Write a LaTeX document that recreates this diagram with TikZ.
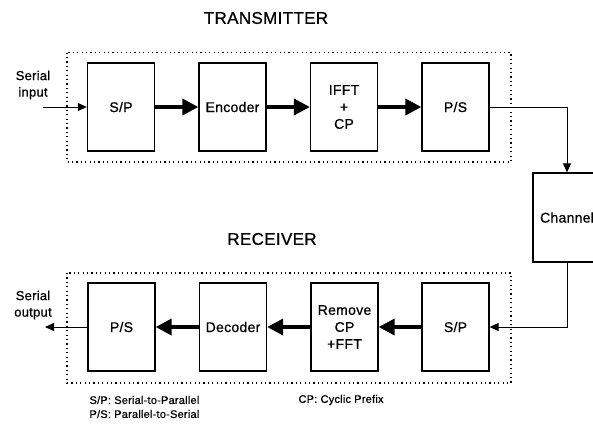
\documentclass[tikz,border=0pt]{standalone}
\usepackage{fontspec}
\setmainfont{Liberation Sans}[FakeBold=0.7,LetterSpace=2]
\usetikzlibrary{arrows.meta}

\begin{document}
\begin{tikzpicture}[x=1pt,y=-1pt,
  block/.style={draw,line width=1.3pt,minimum width=67pt,minimum height=88pt,
    inner sep=0pt,align=center,font=\fontsize{14}{17}\selectfont},
  group/.style={draw,line width=1.2pt,dash pattern=on 1.2pt off 3.2pt},
  thick arrow/.style={line width=3.6pt,-{Triangle[length=16pt,width=16pt]}},
  thin arrow/.style={line width=1pt,-{Triangle[length=9pt,width=8pt]}},
  side/.style={align=center,font=\fontsize{13}{16.5}\selectfont},
  title/.style={font=\fontsize{17}{20}\selectfont},
  note/.style={anchor=west,font=\fontsize{11}{13}\selectfont}]
\useasboundingbox (0,0) rectangle (593,432);

% titles
\node[title] (ttx) at (266,18) {TRANSMITTER};
\node[title] (trx) at (272,239) {RECEIVER};

% dotted group frames
\draw[group] (67,52.5) rectangle (511,162);
\draw[group] (67,273) rectangle (511,383);

% transmitter chain
\node[block] (sp1)  at (121,107)   {S/P};
\node[block] (enc)  at (232.5,107) {Encoder};
\node[block] (ifft) at (344,107)   {IFFT\\+\\CP};
\node[block] (ps1)  at (455.5,107) {P/S};

% receiver chain
\node[block] (ps2)  at (121.5,327) {P/S};
\node[block] (dec)  at (233,327)   {Decoder};
\node[block] (fft)  at (344.5,327) {Remove\\CP\\+FFT};
\node[block] (sp2)  at (455.5,327) {S/P};

% channel
\node[draw,line width=1.3pt,minimum width=68pt,minimum height=89pt,inner sep=0pt,
  font=\fontsize{14}{17}\selectfont] (ch) at (567,217.5) {Channel\hspace{4pt}};

% side labels
\node[side] (sin)  at (33,85)  {Serial\\input};
\node[side] (sout) at (33,305) {Serial\\output};
\coordinate (inpt)  at (43,107);
\coordinate (outpt) at (45,327);

% connectors
\draw[thin arrow] (inpt) -- (sp1.west);
\draw[thick arrow] (sp1) -- (enc);
\draw[thick arrow] (enc) -- (ifft);
\draw[thick arrow] (ifft) -- (ps1);
\draw[thin arrow] (ps1.east) -| (ch.north);
\draw[thin arrow] (ch.south) |- (sp2.east);
\draw[thick arrow] (sp2) -- (fft);
\draw[thick arrow] (fft) -- (dec);
\draw[thick arrow] (dec) -- (ps2);
\draw[thin arrow] (ps2.west) -- (outpt);

% abbreviations
\node[note] (n1) at (86,400) {S/P: Serial-to-Parallel};
\node[note] (n2) at (86,414) {P/S: Parallel-to-Serial};
\node[note] (n3) at (295,400) {CP: Cyclic Prefix};
\end{tikzpicture}
\end{document}
